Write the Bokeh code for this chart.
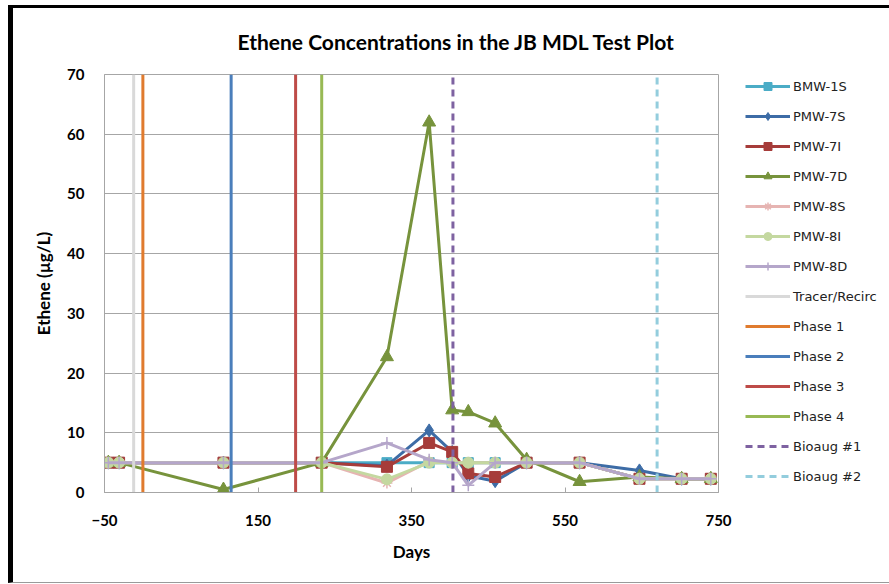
from bokeh.plotting import figure
from bokeh.models import ColumnDataSource, Legend, LegendItem, FixedTicker, Range1d
from bokeh.embed import file_html
from bokeh.resources import INLINE

# ---- data ----
days = [-45, -31, 105, 233, 318, 373, 403, 424, 459, 500, 569, 647, 702, 740]
bmw_1s = [5, 5, 5, 5, 5, 5, 5, 5, 5, 5, 5, 2.3, 2.3, 2.3]
pmw_7s = [5, 5, 5, 5, 4.5, 10.4, 6.8, 2.8, 1.9, 5, 5, 3.7, 2.3, 2.3]
pmw_7i = [5, 5, 5, 5, 4.3, 8.3, 6.8, 3.2, 2.6, 5, 5, 2.3, 2.3, 2.3]
pmw_7d = [5, 5, 0.5, 5, 22.7, 62, 13.8, 13.5, 11.6, 5.5, 1.8, 2.6, 2.3, 2.3]
pmw_8s = [5, 5, 5, 5, 1.6, 5.2, 5, 5, 5, 5, 5, 2.3, 2.3, 2.3]
pmw_8i = [5, 5, 5, 5, 2.2, 5, 5, 5, 5, 5, 5, 2.3, 2.3, 2.3]
pmw_8d = [5, 5, 5, 5, 8.3, 5.5, 5, 1.2, 5, 5, 5, 2.3, 2.3, 2.3]

event_names = ["Tracer/Recirc", "Phase 1", "Phase 2", "Phase 3", "Phase 4", "Bioaug #1", "Bioaug #2"]
event_days = [-12, 0, 115, 199, 233, 404, 670]

x_ticks = [-50, 150, 350, 550, 750]
y_ticks = [0, 10, 20, 30, 40, 50, 60, 70]

# ---- styles ----
series = [
    ("BMW-1S", bmw_1s, "#4bacc6", "square", 10),
    ("PMW-7S", pmw_7s, "#3d6ca6", "diamond", 13),
    ("PMW-7I", pmw_7i, "#a63c3a", "square", 11),
    ("PMW-7D", pmw_7d, "#77933c", "triangle", 13),
    ("PMW-8S", pmw_8s, "#e6b4b2", "asterisk", 11),
    ("PMW-8I", pmw_8i, "#c4d8a0", "circle", 11),
    ("PMW-8D", pmw_8d, "#b5a6ca", "cross", 12),
]
event_colors = ["#d9d9d9", "#e07b2e", "#4a7ebb", "#be4b48", "#98b954", "#7e62a1", "#93cddd"]
event_dash = ["solid"] * 5 + ["7 5", "7 5"]

FONT = "Lato"

p = figure(width=868, height=574, output_backend="svg", toolbar_location=None,
           x_range=Range1d(-50, 750), y_range=Range1d(0, 70),
           frame_width=614, frame_height=418,
           min_border_left=91, min_border_right=163, min_border_top=66, min_border_bottom=90,
           title="Ethene Concentrations in the JB MDL Test Plot")
p.styles = {"margin-left": "8px", "margin-top": "5px",
            "border-left": "5px solid black", "border-top": "3px solid black",
            "border-bottom": "1px solid #9a9a9a"}

p.title.align = "left"
p.title.offset = 133
p.title.vertical_align = "top"
p.title.text_font = FONT
p.title.text_font_size = "21px"
p.title.text_font_style = "bold"
p.title.text_color = "black"
p.title.standoff = 38

p.xgrid.visible = False
p.ygrid.grid_line_color = "#a6a6a6"
p.ygrid.grid_line_width = 1
p.outline_line_color = "#a6a6a6"
p.outline_line_width = 1
p.background_fill_color = "white"
p.border_fill_color = "white"

for ax in (p.xaxis[0], p.yaxis[0]):
    ax.axis_line_color = "#a6a6a6"
    ax.major_tick_line_color = "#a6a6a6"
    ax.minor_tick_line_color = None
    ax.major_label_text_font = FONT
    ax.major_label_text_font_size = "15px"
    ax.major_label_text_font_style = "bold"
    ax.major_label_text_color = "black"
    ax.axis_label_text_font = FONT
    ax.axis_label_text_font_size = "17px"
    ax.axis_label_text_font_style = "bold"
    ax.axis_label_text_color = "black"

p.xaxis.ticker = FixedTicker(ticks=x_ticks)
p.yaxis.ticker = FixedTicker(ticks=y_ticks)
p.xaxis.major_tick_in = 5
p.xaxis.major_tick_out = 0
p.yaxis.major_tick_in = 0
p.yaxis.major_tick_out = 0
p.xaxis.major_label_standoff = 22
p.yaxis.major_label_standoff = 20
p.xaxis.axis_label = "Days"
p.yaxis.axis_label = "Ethene (µg/L)"
p.xaxis.axis_label_standoff = 12
p.yaxis.axis_label_standoff = 10

items = []
for name, vals, color, marker, size in series:
    src = ColumnDataSource(dict(x=days, y=vals))
    r1 = p.line("x", "y", source=src, line_color=color, line_width=3)
    r2 = p.scatter("x", "y", source=src, marker=marker, size=size,
                   fill_color=color, line_color=color, line_width=1.5 if marker in ("asterisk", "cross") else 1)
    items.append(LegendItem(label=name, renderers=[r1, r2]))

for name, d, color, dash in zip(event_names, event_days, event_colors, event_dash):
    src = ColumnDataSource(dict(x0=[d], x1=[d], y0=[0], y1=[70]))
    r = p.segment("x0", "y0", "x1", "y1", source=src, line_color=color, line_width=3, line_dash=dash)
    items.append(LegendItem(label=name, renderers=[r]))

legend = Legend(items=items, location=(27, 6), padding=0, margin=0,
                spacing=10, glyph_width=45, glyph_height=20, label_height=20,
                label_standoff=3, border_line_color=None, background_fill_alpha=0,
                label_text_font="DejaVu Sans", label_text_font_size="13px",
                label_text_color="#222222")
p.add_layout(legend, "right")

open("out.html", "w").write(file_html(p, INLINE))
